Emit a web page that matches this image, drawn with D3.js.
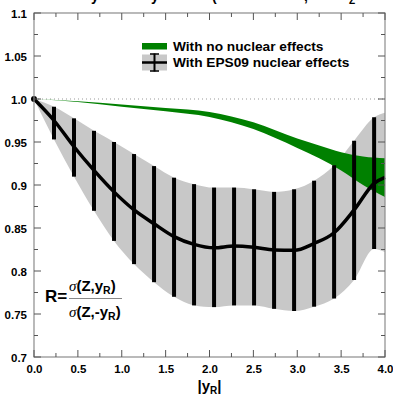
<!DOCTYPE html>
<html><head><meta charset="utf-8">
<script src="https://cdn.jsdelivr.net/npm/d3@7"></script>
<style>html,body{margin:0;padding:0;background:#fff;}svg{display:block;font-family:"Liberation Sans",Arial,sans-serif;}</style>
</head><body>
<svg id="c" width="393" height="398"></svg>
<script>
// ---- data ----
const xTicks = [0.0, 0.5, 1.0, 1.5, 2.0, 2.5, 3.0, 3.5, 4.0];
const yTicks = [0.7, 0.75, 0.8, 0.85, 0.9, 0.95, 1.0, 1.05, 1.1];
const yTickLabels = ["0.7", "0.75", "0.8", "0.85", "0.9", "0.95", "1.0", "1.05", "1.1"];

// EPS09 points (central + error bars)
const epsX    = [0.228, 0.456, 0.684, 0.912, 1.14, 1.368, 1.596, 1.824, 2.052, 2.28, 2.508, 2.736, 2.964, 3.192, 3.42, 3.648, 3.876];
const epsMid  = [0.975, 0.9445, 0.917, 0.892, 0.871, 0.855, 0.840, 0.831, 0.827, 0.829, 0.8275, 0.8244, 0.824, 0.832, 0.8445, 0.871, 0.902];
const epsHigh = [0.991, 0.9775, 0.963, 0.950, 0.936, 0.922, 0.9085, 0.901, 0.897, 0.897, 0.895, 0.892, 0.895, 0.905, 0.923, 0.9515, 0.9787];
const epsLow  = [0.953, 0.9097, 0.870, 0.835, 0.808, 0.787, 0.770, 0.760, 0.758, 0.760, 0.760, 0.756, 0.7535, 0.7585, 0.768, 0.7895, 0.8256];
// curve end points
const epsStart = {x: 0.0, mid: 1.0, high: 1.0, low: 1.0};
const epsEnd   = {x: 4.0, mid: 0.909, high: 0.984, low: 0.822};

// no nuclear effects band
const greenX    = [0.0, 0.5, 1.0, 1.5, 2.0, 2.5, 3.0, 3.25, 3.5, 3.75, 4.0];
const greenHigh = [1.0, 0.9975, 0.9936, 0.9895, 0.985, 0.973, 0.954, 0.946, 0.938, 0.933, 0.931];
const greenLow  = [1.0, 0.9965, 0.991, 0.9857, 0.979, 0.965, 0.943, 0.931, 0.917, 0.900, 0.886];

const legendLabels = ["With no nuclear effects", "With EPS09 nuclear effects"];

// ---- drawing ----
const svg = d3.select("#c");
const L = 34, R = 385, T = 13, B = 357;
const x = d3.scaleLinear().domain([0, 4]).range([L, R]);
const y = d3.scaleLinear().domain([0.7, 1.1]).range([B, T]);

svg.append("rect").attr("width", 393).attr("height", 398).attr("fill", "#fff");

// partially visible title above the frame (clipped by the page top, as in the original)
const title = svg.append("text").attr("y", 1).attr("font-size", 14).attr("font-weight", "bold").attr("fill", "#000");
[["y", 91], ["y", 151], ["(", 212], [",", 304]].forEach(([t, px]) => title.append("tspan").attr("x", px).text(t));
svg.append("text").attr("x", 349).attr("y", 4).attr("font-size", 10).attr("font-weight", "bold").text("Z");

// band data
const bandPts = [epsStart].concat(epsX.map((v, i) => ({x: v, mid: epsMid[i], high: epsHigh[i], low: epsLow[i]}))).concat([epsEnd]);

svg.append("path")
  .datum(bandPts)
  .attr("fill", "#c8c8c8")
  .attr("d", d3.area().x(d => x(d.x)).y0(d => y(d.low)).y1(d => y(d.high)).curve(d3.curveMonotoneX));

// dotted reference line at 1.0
svg.append("line").attr("x1", x(0)).attr("x2", x(4)).attr("y1", y(1)).attr("y2", y(1))
  .attr("stroke", "#999").attr("stroke-width", 1).attr("stroke-dasharray", "1,3");

// green band
const gPts = greenX.map((v, i) => ({x: v, high: greenHigh[i], low: greenLow[i]}));
svg.append("path").datum(gPts).attr("fill", "#008000")
  .attr("d", d3.area().x(d => x(d.x)).y0(d => y(d.low)).y1(d => y(d.high)).curve(d3.curveMonotoneX));

// error bars
svg.append("g").selectAll("line").data(bandPts.slice(1, -1)).join("line")
  .attr("x1", d => x(d.x)).attr("x2", d => x(d.x))
  .attr("y1", d => y(d.high)).attr("y2", d => y(d.low))
  .attr("stroke", "#000").attr("stroke-width", 4);

// central curve
svg.append("path").datum(bandPts).attr("fill", "none").attr("stroke", "#000").attr("stroke-width", 3.5)
  .attr("d", d3.line().x(d => x(d.x)).y(d => y(d.mid)).curve(d3.curveMonotoneX));

svg.append("circle").attr("cx", x(0)).attr("cy", y(1)).attr("r", 3).attr("fill", "#000");

// frame
const frameColor = "#8c8c8c";
svg.append("rect").attr("x", L).attr("y", T).attr("width", R - L).attr("height", B - T)
  .attr("fill", "none").attr("stroke", frameColor).attr("stroke-width", 1.2);

// axes ticks (inward)
const xMinor = d3.range(0, 17).map(i => i * 0.25);
const yMinor = d3.range(0, 17).map(i => 0.7 + i * 0.025);
function addTicks(g, vals, isX, isMajor) {
  const len = isMajor ? 7 : 4;
  vals.forEach(v => {
    if (isX) {
      g.append("line").attr("x1", x(v)).attr("x2", x(v)).attr("y1", B).attr("y2", B - len);
      g.append("line").attr("x1", x(v)).attr("x2", x(v)).attr("y1", T).attr("y2", T + len);
    } else {
      g.append("line").attr("y1", y(v)).attr("y2", y(v)).attr("x1", L).attr("x2", L + len);
      g.append("line").attr("y1", y(v)).attr("y2", y(v)).attr("x1", R).attr("x2", R - len);
    }
  });
}
const tg = svg.append("g").attr("stroke", "#555").attr("stroke-width", 1);
addTicks(tg, xMinor.filter((v, i) => i % 2 === 1), true, false);
addTicks(tg, xTicks, true, true);
addTicks(tg, yMinor.filter((v, i) => i % 2 === 1), false, false);
addTicks(tg, yTicks, false, true);

// tick labels via axis generators
const xAxis = d3.axisBottom(x).tickValues(xTicks).tickFormat(d3.format(".1f")).tickSize(0).tickPadding(0);
const gx = svg.append("g").attr("transform", `translate(0,${B})`).call(xAxis);
gx.select(".domain").remove();
gx.selectAll("text").attr("font-size", 11.5).attr("font-weight", "bold").attr("font-family", "Liberation Sans, Arial, sans-serif")
  .attr("fill", "#000").attr("dy", null).attr("y", 16);

const yAxis = d3.axisLeft(y).tickValues(yTicks).tickFormat((d, i) => yTickLabels[i]).tickSize(0).tickPadding(0);
const gy = svg.append("g").attr("transform", `translate(${L},0)`).call(yAxis);
gy.select(".domain").remove();
gy.selectAll("text").attr("font-size", 11.5).attr("font-weight", "bold").attr("font-family", "Liberation Sans, Arial, sans-serif")
  .attr("fill", "#000").attr("x", -7).attr("dy", "0.35em");

// x axis title |y_R|
const xt = svg.append("text").attr("x", x(2)).attr("y", 391).attr("text-anchor", "middle")
  .attr("font-size", 15).attr("font-weight", "bold");
xt.append("tspan").text("|y");
xt.append("tspan").attr("font-size", 10).attr("dy", 3).text("R");
xt.append("tspan").attr("dy", -3).text("|");

// legend
svg.append("rect").attr("x", 142).attr("y", 43).attr("width", 25).attr("height", 6.5).attr("fill", "#008000");
svg.append("rect").attr("x", 142).attr("y", 54.5).attr("width", 25).attr("height", 16).attr("fill", "#c8c8c8");
const lg = svg.append("g").attr("stroke", "#000");
lg.append("line").attr("x1", 154.5).attr("x2", 154.5).attr("y1", 53.5).attr("y2", 71.5).attr("stroke-width", 2);
lg.append("line").attr("x1", 150).attr("x2", 159).attr("y1", 54).attr("y2", 54).attr("stroke-width", 1.5);
lg.append("line").attr("x1", 150).attr("x2", 159).attr("y1", 71).attr("y2", 71).attr("stroke-width", 1.5);
lg.append("line").attr("x1", 142).attr("x2", 167).attr("y1", 62.5).attr("y2", 62.5).attr("stroke-width", 2.5);
svg.append("text").attr("x", 173).attr("y", 50.5).attr("font-size", 13.7).attr("font-weight", "bold").text(legendLabels[0]);
svg.append("text").attr("x", 173).attr("y", 67).attr("font-size", 13.7).attr("font-weight", "bold").text(legendLabels[1]);

// formula
svg.append("text").attr("x", 45).attr("y", 302).attr("font-size", 17).attr("font-weight", "bold").text("R=");
const num = svg.append("text").attr("x", 69).attr("y", 291).attr("font-size", 15).attr("font-weight", "bold");
num.append("tspan").attr("font-style", "italic").attr("font-weight", "normal").attr("font-family", "Liberation Serif, serif").text("σ");
num.append("tspan").text("(Z,y");
num.append("tspan").attr("font-size", 10.5).attr("dy", 3).text("R");
num.append("tspan").attr("dy", -3).text(")");
svg.append("line").attr("x1", 69).attr("x2", 122).attr("y1", 298.5).attr("y2", 298.5).attr("stroke", "#888").attr("stroke-width", 1);
const den = svg.append("text").attr("x", 69).attr("y", 317).attr("font-size", 15).attr("font-weight", "bold");
den.append("tspan").attr("font-style", "italic").attr("font-weight", "normal").attr("font-family", "Liberation Serif, serif").text("σ");
den.append("tspan").text("(Z,-y");
den.append("tspan").attr("font-size", 10.5).attr("dy", 3).text("R");
den.append("tspan").attr("dy", -3).text(")");
</script>
</body></html>
